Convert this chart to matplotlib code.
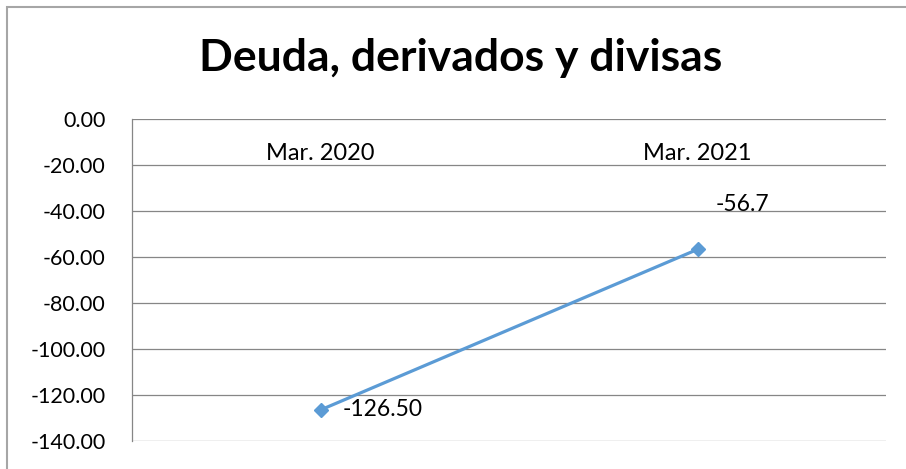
import matplotlib
matplotlib.use('Agg')
from matplotlib import pyplot as plt
from matplotlib.patches import Rectangle

# Datos del gráfico
categorias = ['Mar. 2020', 'Mar. 2021']
valores = [-126.50, -56.7]
etiquetas = ['-126.50', '-56.7']
y_ticks = [0, -20, -40, -60, -80, -100, -120, -140]

plt.rcParams['font.family'] = ['Lato', 'DejaVu Sans']

fig = plt.figure(figsize=(9.06, 4.69), dpi=100)
ax = fig.add_axes([132 / 906, 1 - 441 / 469, (886 - 132) / 906, (441 - 119) / 469])

# Borde exterior del gráfico
fig.patches.append(Rectangle((6.5 / 906, -0.1), 1.2, 1 - 7.5 / 469 + 0.1, transform=fig.transFigure,
                             fill=False, edgecolor='#a6a6a6', linewidth=1.5))

x = list(range(len(categorias)))
ax.plot(x, valores, color='#5b9bd5', linewidth=2.3, marker='D', markersize=7.5, zorder=3)

# Etiquetas de datos
ax.annotate(etiquetas[0], (x[0], valores[0]), xytext=(16, 0), textcoords='offset points',
            ha='left', va='center', fontsize=16.5)
ax.annotate(etiquetas[1], (x[1], valores[1]), xytext=(32, 32), textcoords='offset points',
            ha='center', va='center', fontsize=16.5)

# Etiquetas de categorías junto al eje (en y=0)
for xi, cat in zip(x, categorias):
    ax.annotate(cat, (xi, 0), xytext=(0, -17), textcoords='offset points',
                ha='center', va='top', fontsize=17)

ax.set_xlim(-0.5, 1.5)
ax.set_ylim(-140, 0)
ax.set_yticks(y_ticks)
ax.set_yticklabels([f'{v:.2f}' for v in y_ticks], fontsize=15.5)
ax.tick_params(axis='y', length=0, pad=19)
ax.set_xticks([])
ax.grid(axis='y', color='#868686', linewidth=0.9)

for s in ['top', 'right', 'bottom']:
    ax.spines[s].set_visible(False)
ax.spines['left'].set_color('#868686')
ax.spines['left'].set_linewidth(0.9)

fig.text(461 / 906, 1 - 58 / 469, 'Deuda, derivados y divisas', ha='center', va='center',
         fontsize=32, fontweight='bold')

fig.savefig('out.png', dpi=100)
